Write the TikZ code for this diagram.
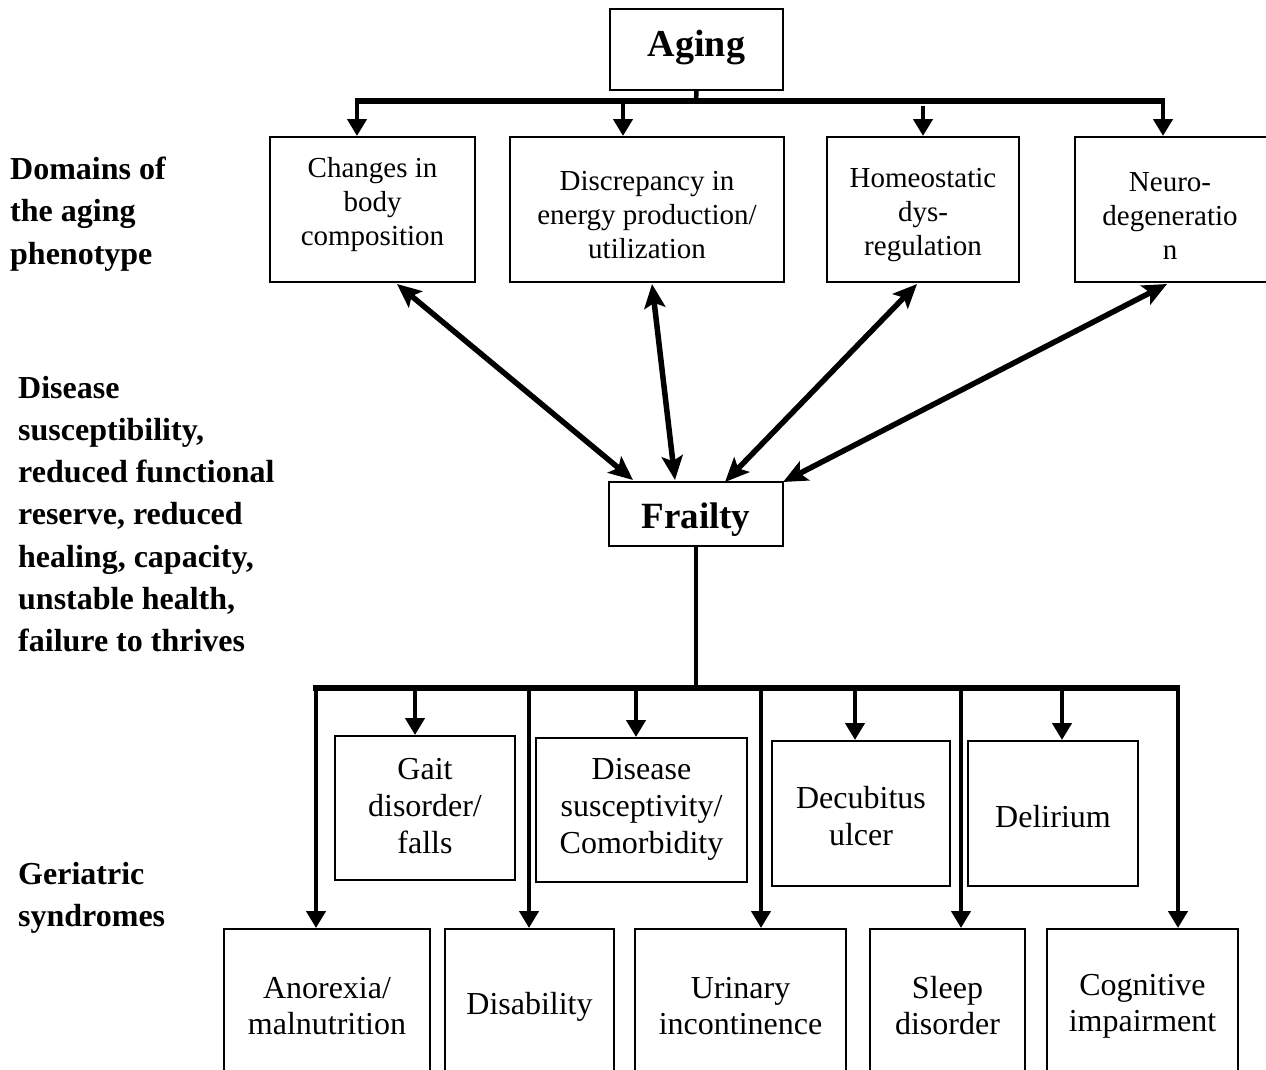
\documentclass[tikz,border=0pt]{standalone}
\usepackage{fontspec}
\setmainfont{Liberation Serif}
\usetikzlibrary{arrows.meta}
\begin{document}
\begin{tikzpicture}[x=1pt,y=-1pt,
  box/.style={draw, line width=2pt, inner sep=0pt},
  txtA/.style={align=center, inner sep=0pt, font=\fontsize{29}{34}\selectfont},
  txtB/.style={align=center, inner sep=0pt, font=\fontsize{32}{37}\selectfont},
  txtC/.style={align=center, inner sep=0pt, font=\fontsize{32}{36}\selectfont},
  side/.style={align=left, anchor=west, inner sep=0pt, font=\fontsize{32}{42.3}\selectfont\bfseries},
  conn/.style={line width=4.5pt},
  bar/.style={line width=5.5pt},
  down/.style={line width=4.5pt, -{Triangle[length=17pt,width=19pt]}},
  both/.style={line width=5.5pt, {Stealth[length=24pt,width=21pt,inset=5pt]}-{Stealth[length=24pt,width=21pt,inset=5pt]}},
]
\useasboundingbox (0,0) rectangle (1266,1069);
\clip (0,0) rectangle (1266,1069);
\fill[white] (0,0) rectangle (1266,1069);

% side labels
\node[side] (lab1) at (10,214) {Domains of\\the aging\\phenotype};
\node[side] (lab2) at (18,514) {Disease\\susceptibility,\\reduced functional\\reserve, reduced\\healing, capacity,\\unstable health,\\failure to thrives};
\node[side] (lab3) at (18,898) {Geriatric\\syndromes};

% top
\node[box, minimum width=173pt, minimum height=81pt] (aging) at (696.5,49.5) {};
\node[inner sep=0pt, font=\fontsize{38}{40}\selectfont\bfseries] (agingt) at (696.5,48) {Aging};

\node[box, minimum width=205pt, minimum height=145pt] (chg) at (372.5,209.5) {};
\node[txtA] (chgt) at (372.5,205) {Changes in\\body\\composition};
\node[box, minimum width=274pt, minimum height=145pt] (disc) at (647,209.5) {};
\node[txtA] (disct) at (647,215.5) {Discrepancy in\\energy production/\\utilization};
\node[box, minimum width=192pt, minimum height=145pt] (homeo) at (923,209.5) {};
\node[txtA] (homeot) at (923,215.5) {Homeostatic\\dys-\\regulation};
\node[box, minimum width=200pt, minimum height=145pt] (neuro) at (1175,209.5) {};
\node[txtA] (neurot) at (1170,215.5) {Neuro-\\degeneratio\\n};

% frailty
\node[box, minimum width=174pt, minimum height=64pt] (frail) at (696,514) {};
\node[inner sep=0pt, font=\fontsize{37}{40}\selectfont\bfseries] (frailt) at (696,520) {Frailty};

% middle boxes
\node[box, minimum width=180pt, minimum height=144pt] (gait) at (425,808) {};
\node[txtB] (gaitt) at (425,806) {Gait\\disorder/\\falls};
\node[box, minimum width=211pt, minimum height=144pt] (dis) at (641.5,810) {};
\node[txtB] (dist) at (641.5,809) {Disease\\susceptivity/\\Comorbidity};
\node[box, minimum width=178pt, minimum height=145pt] (dec) at (861,813.5) {};
\node[txtB] (dect) at (861,816) {Decubitus\\ulcer};
\node[box, minimum width=170pt, minimum height=145pt] (del) at (1053,813.5) {};
\node[txtB] (delt) at (1053,817) {Delirium};

% bottom boxes (run off the page)
\node[box, minimum width=206pt, minimum height=171pt] (ano) at (327,1014.5) {};
\node[txtC] (anot) at (327,1006) {Anorexia/\\malnutrition};
\node[box, minimum width=169pt, minimum height=171pt] (disab) at (529.5,1014.5) {};
\node[txtC] (disabt) at (529.5,1007) {Disability};
\node[box, minimum width=211pt, minimum height=171pt] (uri) at (740.5,1014.5) {};
\node[txtC] (urit) at (740.5,1006) {Urinary\\incontinence};
\node[box, minimum width=155pt, minimum height=171pt] (slp) at (947.5,1014.5) {};
\node[txtC] (slpt) at (947.5,1006) {Sleep\\disorder};
\node[box, minimum width=191pt, minimum height=171pt] (cog) at (1142.5,1014.5) {};
\node[txtC] (cogt) at (1142.5,1006) {Cognitive\\impairment};

% top connectors
\coordinate (tb) at (696,101);
\coordinate (a1) at (357,101);
\coordinate (a2) at (623,101);
\coordinate (a3) at (923,106);
\coordinate (a4) at (1163,101);
\coordinate (tbl) at (355,101);
\coordinate (tbr) at (1165,101);
\draw[conn] (aging.south) -- (tb);
\draw[bar] (tbl) -- (tbr);
\draw[down] (a1) -- (a1 |- chg.north);
\draw[down] (a2) -- (a2 |- disc.north);
\draw[down] (a3) -- (a3 |- homeo.north);
\draw[down] (a4) -- (a4 |- neuro.north);

% diagonal two-way arrows
\coordinate (d1a) at (397,284); \coordinate (d1b) at (633,480);
\coordinate (d2a) at (652,284); \coordinate (d2b) at (675,480);
\coordinate (d3a) at (917,284); \coordinate (d3b) at (725,482);
\coordinate (d4a) at (1167,284); \coordinate (d4b) at (783,482);
\draw[both] (d1a) -- (d1b);
\draw[both] (d2a) -- (d2b);
\draw[both] (d3a) -- (d3b);
\draw[both] (d4a) -- (d4b);

% lower connectors
\coordinate (bb) at (696,688);
\coordinate (bbl) at (313,688);
\coordinate (bbr) at (1180,688);
\draw[conn] (frail.south) -- (bb);
\draw[bar] (bbl) -- (bbr);
\coordinate (b1) at (316,688);
\coordinate (b2) at (415,688);
\coordinate (b3) at (529,688);
\coordinate (b4) at (636,688);
\coordinate (b5) at (761,688);
\coordinate (b6) at (855,688);
\coordinate (b7) at (961,688);
\coordinate (b8) at (1062,688);
\coordinate (b9) at (1178,688);
\draw[down] (b1) -- (b1 |- ano.north);
\draw[down] (b2) -- (b2 |- gait.north);
\draw[down] (b3) -- (b3 |- disab.north);
\draw[down] (b4) -- (b4 |- dis.north);
\draw[down] (b5) -- (b5 |- uri.north);
\draw[down] (b6) -- (b6 |- dec.north);
\draw[down] (b7) -- (b7 |- slp.north);
\draw[down] (b8) -- (b8 |- del.north);
\draw[down] (b9) -- (b9 |- cog.north);
\end{tikzpicture}
\end{document}
